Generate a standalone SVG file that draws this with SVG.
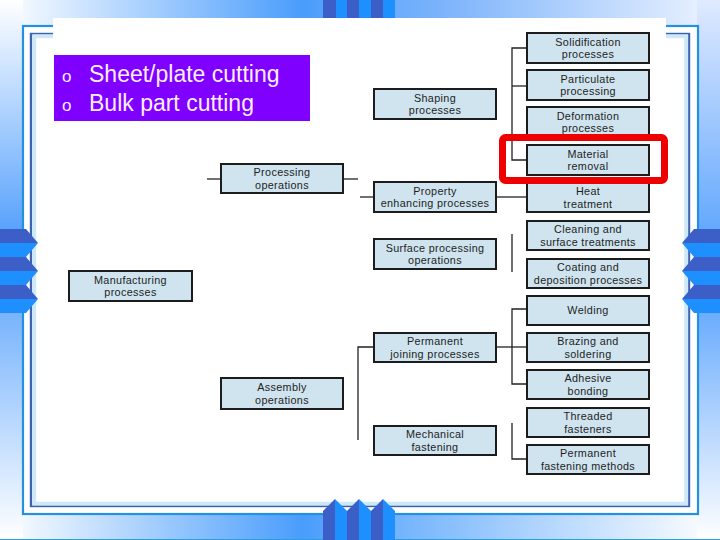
<svg xmlns="http://www.w3.org/2000/svg" width="720" height="540" viewBox="0 0 720 540">
<style>
.box{fill:#cfe4ee;stroke:#1c1c1c;stroke-width:2}
.lbl{font-family:"Liberation Sans",Arial,sans-serif;font-size:10.8px;letter-spacing:0.35px;fill:#1e1e1e;text-anchor:middle}
.con{stroke:#222;stroke-width:1.3;fill:none}
.dk{fill:#3b5fc6}
.br{fill:#1e8fff}
.bul{font-family:"Liberation Sans",Arial,sans-serif;fill:#ffeeff}
</style>
<defs>
<linearGradient id="gTop" x1="0" y1="0" x2="1" y2="0">
<stop offset="0" stop-color="#ffffff"/><stop offset="0.42" stop-color="#4a9dfc"/><stop offset="0.62" stop-color="#7db4fb"/><stop offset="1" stop-color="#eef4ff"/>
</linearGradient>
<linearGradient id="gBot" x1="0" y1="0" x2="1" y2="0">
<stop offset="0" stop-color="#ffffff"/><stop offset="0.42" stop-color="#4a9dfc"/><stop offset="1" stop-color="#ffffff"/>
</linearGradient>
<linearGradient id="gLeft" x1="0" y1="0" x2="0" y2="1">
<stop offset="0" stop-color="#ffffff"/><stop offset="0.45" stop-color="#4f9dfc"/><stop offset="1" stop-color="#ffffff"/>
</linearGradient>
<linearGradient id="gRight" x1="0" y1="0" x2="0" y2="1">
<stop offset="0" stop-color="#dfeaff"/><stop offset="0.5" stop-color="#4f9dfc"/><stop offset="1" stop-color="#ffffff"/>
</linearGradient>
</defs>

<g id="background">
<rect x="0" y="0" width="720" height="540" fill="#ffffff"/>
<rect x="0" y="0" width="720" height="27" fill="url(#gTop)"/>
<rect x="0" y="513" width="720" height="27" fill="url(#gBot)"/>
<rect x="0" y="0" width="23" height="540" fill="url(#gLeft)"/>
<rect x="697" y="0" width="23" height="540" fill="url(#gRight)"/>
<line x1="0" y1="539.5" x2="720" y2="539.5" stroke="#2aa0d8" stroke-width="1"/>
<rect x="23" y="26" width="675" height="488" fill="#ffffff" stroke="#2391e0" stroke-width="2.2"/>
<rect x="31" y="34" width="658" height="472" fill="none" stroke="#3d62b0" stroke-width="2.4"/>
<rect x="34.2" y="36.2" width="652" height="467.5" fill="none" stroke="#cde9f8" stroke-width="4"/>
<rect x="53" y="18" width="613" height="40" fill="#ffffff"/>
<rect x="323" y="0" width="13" height="18" class="dk"/>
<rect x="336" y="0" width="11" height="18" class="br"/>
<rect x="347" y="0" width="12" height="18" class="dk"/>
<rect x="359" y="0" width="12" height="18" class="br"/>
<rect x="371" y="0" width="12" height="18" class="dk"/>
<rect x="383" y="0" width="12" height="18" class="br"/>
<polygon points="323,540 323,511 335,499 335,540" class="dk"/>
<polygon points="335,540 335,499 347,511 347,540" class="br"/>
<polygon points="347,540 347,511 359,499 359,540" class="dk"/>
<polygon points="359,540 359,499 371,511 371,540" class="br"/>
<polygon points="371,540 371,511 383,499 383,540" class="dk"/>
<polygon points="383,540 383,499 395,511 395,540" class="br"/>
<polygon points="0,229 26,229 38,243 0,243" class="dk"/>
<polygon points="0,243 38,243 26,257 0,257" class="br"/>
<polygon points="0,257 26,257 38,271 0,271" class="dk"/>
<polygon points="0,271 38,271 26,285 0,285" class="br"/>
<polygon points="0,285 26,285 38,299 0,299" class="dk"/>
<polygon points="0,299 38,299 26,313 0,313" class="br"/>
<polygon points="720,229 694,229 682,243 720,243" class="dk"/>
<polygon points="720,243 682,243 694,257 720,257" class="br"/>
<polygon points="720,257 694,257 682,271 720,271" class="dk"/>
<polygon points="720,271 682,271 694,285 720,285" class="br"/>
<polygon points="720,285 694,285 682,299 720,299" class="dk"/>
<polygon points="720,299 682,299 694,313 720,313" class="br"/>
</g>

<g id="bullets">
<rect x="54" y="55" width="256" height="66" fill="#7f00ff"/>
<text x="62" y="82" class="bul" font-size="17">o</text>
<text x="89" y="82" class="bul" font-size="23">Sheet/plate cutting</text>
<text x="62" y="111" class="bul" font-size="17">o</text>
<text x="89" y="111" class="bul" font-size="23">Bulk part cutting</text>
</g>

<g id="connectors">
<line class="con" x1="207" y1="179" x2="221" y2="179"/>
<line class="con" x1="343" y1="179" x2="358" y2="179"/>
<line class="con" x1="360" y1="197" x2="374" y2="197"/>
<polyline class="con" points="374,347 358,347 358,440"/>
<polyline class="con" points="527,48 512,48 512,160 527,160"/>
<line class="con" x1="512" y1="86" x2="527" y2="86"/>
<line class="con" x1="496" y1="197" x2="527" y2="197"/>
<line class="con" x1="512" y1="234" x2="512" y2="272"/>
<polyline class="con" points="527,309 512,309 512,384 527,384"/>
<line class="con" x1="496" y1="347" x2="527" y2="347"/>
<polyline class="con" points="512,423 512,459 527,459"/>
</g>

<g id="n-manufacturing"><rect class="box" x="69" y="271" width="123" height="30"/><text class="lbl" x="130.5" y="283.5">Manufacturing</text><text class="lbl" x="130.5" y="296">processes</text></g>
<g id="n-processing"><rect class="box" x="221" y="164" width="122" height="29"/><text class="lbl" x="282" y="176">Processing</text><text class="lbl" x="282" y="188.5">operations</text></g>
<g id="n-assembly"><rect class="box" x="221" y="378" width="122" height="31"/><text class="lbl" x="282" y="391">Assembly</text><text class="lbl" x="282" y="403.5">operations</text></g>

<g id="n-shaping"><rect class="box" x="374" y="89" width="122" height="30"/><text class="lbl" x="435" y="101.5">Shaping</text><text class="lbl" x="435" y="114">processes</text></g>
<g id="n-property"><rect class="box" x="374" y="182" width="122" height="30"/><text class="lbl" x="435" y="194.5">Property</text><text class="lbl" x="435" y="207">enhancing processes</text></g>
<g id="n-surface"><rect class="box" x="374" y="239" width="122" height="30"/><text class="lbl" x="435" y="251.5">Surface processing</text><text class="lbl" x="435" y="264">operations</text></g>
<g id="n-permjoin"><rect class="box" x="374" y="333" width="122" height="29"/><text class="lbl" x="435" y="345">Permanent</text><text class="lbl" x="435" y="357.5">joining processes</text></g>
<g id="n-mechanical"><rect class="box" x="374" y="426" width="122" height="29"/><text class="lbl" x="435" y="438">Mechanical</text><text class="lbl" x="435" y="450.5">fastening</text></g>

<g id="n-solidification"><rect class="box" x="527" y="33" width="122" height="30"/><text class="lbl" x="588" y="45.5">Solidification</text><text class="lbl" x="588" y="58">processes</text></g>
<g id="n-particulate"><rect class="box" x="527" y="70" width="122" height="30"/><text class="lbl" x="588" y="82.5">Particulate</text><text class="lbl" x="588" y="95">processing</text></g>
<g id="n-deformation"><rect class="box" x="527" y="107" width="122" height="30"/><text class="lbl" x="588" y="119.5">Deformation</text><text class="lbl" x="588" y="132">processes</text></g>
<g id="n-material"><rect class="box" x="527" y="145" width="122" height="30"/><text class="lbl" x="588" y="157.5">Material</text><text class="lbl" x="588" y="170">removal</text></g>
<g id="n-heat"><rect class="box" x="527" y="183" width="122" height="29"/><text class="lbl" x="588" y="195">Heat</text><text class="lbl" x="588" y="207.5">treatment</text></g>
<g id="n-cleaning"><rect class="box" x="527" y="221" width="122" height="29"/><text class="lbl" x="588" y="233">Cleaning and</text><text class="lbl" x="588" y="245.5">surface treatments</text></g>
<g id="n-coating"><rect class="box" x="527" y="259" width="122" height="29"/><text class="lbl" x="588" y="271">Coating and</text><text class="lbl" x="588" y="283.5">deposition processes</text></g>
<g id="n-welding"><rect class="box" x="527" y="296" width="122" height="29"/><text class="lbl" x="588" y="314">Welding</text></g>
<g id="n-brazing"><rect class="box" x="527" y="333" width="122" height="29"/><text class="lbl" x="588" y="345">Brazing and</text><text class="lbl" x="588" y="357.5">soldering</text></g>
<g id="n-adhesive"><rect class="box" x="527" y="370" width="122" height="29"/><text class="lbl" x="588" y="382">Adhesive</text><text class="lbl" x="588" y="394.5">bonding</text></g>
<g id="n-threaded"><rect class="box" x="527" y="408" width="122" height="29"/><text class="lbl" x="588" y="420">Threaded</text><text class="lbl" x="588" y="432.5">fasteners</text></g>
<g id="n-permfast"><rect class="box" x="527" y="445" width="122" height="29"/><text class="lbl" x="588" y="457">Permanent</text><text class="lbl" x="588" y="469.5">fastening methods</text></g>

<g id="highlight">
<rect x="502.5" y="137.5" width="162" height="43" rx="3" fill="none" stroke="#ee0000" stroke-width="7"/>
</g>
</svg>
